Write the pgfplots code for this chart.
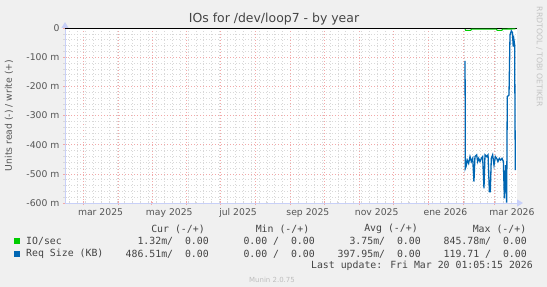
\documentclass[border=0pt]{standalone}
\usepackage{pgfplots}
\pgfplotsset{compat=1.18}
\usepackage{fontspec}
\setmainfont{DejaVu Sans}
\newfontfamily\monofont{DejaVu Sans Mono}
\usetikzlibrary{arrows.meta}
\definecolor{bgc}{HTML}{F0F0F0}
\definecolor{axc}{HTML}{C8D0F8}
\definecolor{majg}{HTML}{F2A8A8}
\definecolor{ming}{HTML}{D8D8D8}
\definecolor{txt}{HTML}{555555}
\definecolor{ttl}{HTML}{444444}
\definecolor{iogreen}{HTML}{00CC00}
\definecolor{reqblue}{HTML}{0066B3}
\begin{document}
\begin{tikzpicture}
\fill[bgc] (0bp,0bp) rectangle (547bp,287bp);
\begin{axis}[
 at={(65bp,84bp)}, anchor=south west,
 scale only axis, width=452bp, height=175bp,
 xmin=-16, xmax=385, ymin=-600, ymax=0,
 axis background/.style={fill=white},
 axis x line=bottom, axis y line=left,
 axis line style={draw=axc, line width=0.8bp, -{Triangle[width=7bp,length=6bp,fill=axc]}, shorten >=-6bp},
 xtick={0,31,61,92,122,153,184,214,245,275,306,337,365},
 xticklabels={mar 2025,,may 2025,,jul 2025,,sep 2025,,nov 2025,,ene 2026,,mar 2026},
 xticklabel style={xshift=17.5bp},
 minor xtick={-12,-5,...,383},
 ytick={-600,-500,-400,-300,-200,-100,0},
 yticklabels={-600 m,-500 m,-400 m,-300 m,-200 m,-100 m,0},
 minor ytick={-580,-560,...,-20},
 grid=both,
 major grid style={draw=majg, line width=0.5bp, dash pattern=on 1bp off 2bp},
 minor grid style={draw=ming, line width=0.5bp, dash pattern=on 1bp off 2bp},
 tick align=center, major tick length=4bp, minor tick length=3bp,
 major tick style={draw=majg, line width=0.6bp},
 minor tick style={draw=ming, line width=0.6bp},
 ticklabel style={font=\fontsize{9.3}{11}\selectfont, text=txt},
 clip=true,
]
\addplot[black, line width=0.9bp] coordinates {(-16,0) (385,0)};
\addplot[iogreen, line width=1.1bp] coordinates {
 (338.9,-4) (339.5,-8) (344.0,-8) (344.6,-4) (366.8,-4) (367.4,-8) (371.6,-8) (372.2,-4) (383.5,-3)};
\addplot[reqblue, line width=1.3bp] coordinates {
 (338.9,-113) (339.2,-481) (339.8,-475) (340.9,-453) (342.1,-464) (343.3,-441)
 (344.5,-458) (345.7,-447) (346.8,-527) (347.7,-441) (349.2,-435) (350.1,-458)
 (351.0,-447) (352.2,-458) (353.4,-447) (354.5,-441) (355.7,-550) (356.6,-435)
 (358.1,-441) (359.3,-435) (360.5,-561) (361.3,-561) (362.2,-447) (363.4,-435)
 (364.6,-470) (365.8,-441) (367.0,-447) (368.1,-458) (369.3,-447) (370.5,-453)
 (371.7,-447) (372.9,-458) (373.8,-584) (374.9,-470) (375.8,-599) (376.4,-235)
 (377.9,-230) (378.8,-24) (380.0,-10) (380.9,-15) (381.7,-64) (382.3,-41)
 (382.9,-58) (383.5,-487)};
\end{axis}
% titles
\node[font=\fontsize{12.5}{15}\selectfont, text=ttl] at (274bp,268bp) {IOs for /dev/loop7 - by year};
\node[font=\fontsize{9.3}{11}\selectfont, text=txt, rotate=90] at (9bp,171.5bp) {Units read (-) / write (+)};
\node[font=\fontsize{7.8}{9}\selectfont, text={rgb,255:red,195;green,195;blue,195}, rotate=-90] at (539.5bp,230bp) {RRDTOOL / TOBI OETIKER};
% legend
\begin{scope}[every node/.style={font=\monofont\fontsize{9.9}{12}\selectfont, text=ttl, inner sep=0pt}]
\node at (178bp,58bp) {Cur (-/+)};
\node at (282.5bp,58bp) {Min (-/+)};
\node at (391bp,58bp) {Avg (-/+)};
\node at (499.5bp,58bp) {Max (-/+)};
\fill[iogreen] (13.5bp,42.5bp) rectangle (19.5bp,48.5bp);
\fill[reqblue] (13.5bp,30bp) rectangle (19.5bp,36bp);
\node[anchor=west] at (26bp,45.5bp) {IO/sec};
\node[anchor=east] at (209bp,45.5bp) {1.32m/\ \ 0.00};
\node[anchor=east] at (315bp,45.5bp) {0.00 /\ \ 0.00};
\node[anchor=east] at (421bp,45.5bp) {3.75m/\ \ 0.00};
\node[anchor=east] at (527bp,45.5bp) {845.78m/\ \ 0.00};
\node[anchor=west] at (26bp,33bp) {Req Size (KB)};
\node[anchor=east] at (209bp,33bp) {486.51m/\ \ 0.00};
\node[anchor=east] at (315bp,33bp) {0.00 /\ \ 0.00};
\node[anchor=east] at (421bp,33bp) {397.95m/\ \ 0.00};
\node[anchor=east] at (527bp,33bp) {119.71 /\ \ 0.00};
\node[anchor=east] at (533bp,21bp) {Last update: Fri Mar 20 01:05:15 2026};
\end{scope}
\node[font=\fontsize{7}{8}\selectfont, text={rgb,255:red,190;green,190;blue,190}] at (272bp,7.5bp) {Munin 2.0.75};
\pgfresetboundingbox
\useasboundingbox (0bp,0bp) rectangle (547bp,287bp);
\end{tikzpicture}
\end{document}
